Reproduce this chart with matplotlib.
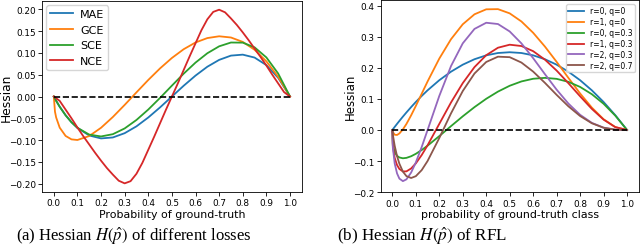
# -*- coding: utf-8 -*-

import matplotlib
matplotlib.use('Agg')
import matplotlib.pyplot as plt

SET_DPI = 100
FIGSIZE = (6.4, 2.53)

# (a) Hessian of different losses
P_LEFT = [0, 0.005, 0.01, 0.025, 0.05, 0.075, 0.1, 0.15, 0.2, 0.25, 0.3, 0.35,
          0.4, 0.45, 0.5, 0.55, 0.6, 0.65, 0.7, 0.75, 0.8, 0.85, 0.9, 0.95, 1.0]
MAE = [0, -0.0049, -0.0097, -0.0232, -0.0428, -0.059, -0.072, -0.0893, -0.096,
       -0.0938, -0.084, -0.0683, -0.048, -0.0248, 0, 0.0248, 0.048, 0.0683,
       0.084, 0.0938, 0.096, 0.0893, 0.072, 0.0428, 0]
GCE = [0, -0.0347, -0.048, -0.0713, -0.0903, -0.0982, -0.0996, -0.0905, -0.0716,
       -0.0469, -0.0192, 0.0096, 0.038, 0.0646, 0.0884, 0.1085, 0.1239, 0.134,
       0.1381, 0.1353, 0.1252, 0.1072, 0.0806, 0.0451, 0]
SCE = [0, -0.005, -0.0099, -0.0235, -0.0431, -0.0591, -0.0716, -0.0872, -0.0915,
       -0.0863, -0.0731, -0.0537, -0.0298, -0.003, 0.025, 0.0525, 0.0778, 0.0992,
       0.1151, 0.1238, 0.1235, 0.1127, 0.0896, 0.0526, 0]
# NCE is sharper, so it gets a finer grid of its own
P_NCE = [0, 0.025, 0.05, 0.075, 0.1, 0.125, 0.15, 0.175, 0.2, 0.225, 0.25,
         0.275, 0.3, 0.325, 0.35, 0.375, 0.4, 0.425, 0.45, 0.475, 0.5,
         0.525, 0.55, 0.575, 0.6, 0.625, 0.65, 0.675, 0.7, 0.725, 0.75,
         0.775, 0.8, 0.825, 0.85, 0.875, 0.9, 0.925, 0.95, 0.975, 1.0]
NCE = [0, -0.01, -0.03, -0.05, -0.071, -0.091, -0.11, -0.129, -0.147, -0.164,
       -0.179, -0.193, -0.199, -0.194, -0.177, -0.152, -0.122, -0.092, -0.061,
       -0.03, 0, 0.03, 0.061, 0.092, 0.122, 0.152, 0.177, 0.194, 0.199, 0.193,
       0.179, 0.164, 0.147, 0.129, 0.11, 0.091, 0.071, 0.05, 0.03, 0.01, 0]
LEFT_LABELS = ['MAE', 'GCE', 'SCE', 'NCE']

# (b) Hessian of RFL
P_RIGHT = [0, 0.002, 0.01, 0.02, 0.03, 0.045, 0.06, 0.08, 0.1, 0.125, 0.15, 0.2,
           0.25, 0.3, 0.35, 0.4, 0.45, 0.5, 0.55, 0.6, 0.65, 0.7, 0.75, 0.8,
           0.85, 0.9, 0.95, 1.0]
R0_Q0 = [0, 0.002, 0.0099, 0.0196, 0.0291, 0.043, 0.0564, 0.0736, 0.09, 0.1094,
         0.1275, 0.16, 0.1875, 0.21, 0.2275, 0.24, 0.2475, 0.25, 0.2475, 0.24,
         0.2275, 0.21, 0.1875, 0.16, 0.1275, 0.09, 0.0475, 0]
R1_Q0 = [0, -0.0064, -0.0153, -0.016, -0.0112, 0.0019, 0.0194, 0.047, 0.0772,
         0.1165, 0.1558, 0.2295, 0.2919, 0.3399, 0.372, 0.388, 0.3886, 0.375,
         0.3489, 0.3125, 0.2683, 0.219, 0.1676, 0.1174, 0.0719, 0.0346, 0.0093, 0]
R0_Q03 = [0, -0.046, -0.0714, -0.0831, -0.0884, -0.091, -0.0897, -0.0845, -0.0767,
          -0.0645, -0.0505, -0.0197, 0.0124, 0.0439, 0.0735, 0.1003, 0.1234,
          0.1422, 0.1561, 0.1647, 0.1676, 0.1644, 0.1548, 0.1384, 0.115, 0.0843,
          0.046, 0]
R1_Q03 = [0, -0.0506, -0.09, -0.1128, -0.1254, -0.1334, -0.1331, -0.1238, -0.1075,
          -0.0807, -0.0494, 0.0196, 0.0885, 0.1507, 0.2022, 0.2405, 0.2645,
          0.2742, 0.27, 0.2534, 0.2262, 0.191, 0.1505, 0.1083, 0.0678, 0.0333,
          0.0092, 0]
R2_Q03 = [0, -0.0557, -0.1077, -0.1396, -0.1564, -0.1645, -0.1588, -0.137,
          -0.1045, -0.0549, -0.0004, 0.1094, 0.2056, 0.2786, 0.325, 0.3448,
          0.3407, 0.3168, 0.2784, 0.2309, 0.1796, 0.1296, 0.085, 0.0488, 0.0229,
          0.0075, 0.001, 0]
R2_Q07 = [0, -0.0144, -0.0509, -0.0839, -0.1086, -0.1339, -0.1484, -0.1544,
          -0.1486, -0.1291, -0.0999, -0.0259, 0.0535, 0.1252, 0.1816, 0.2187,
          0.2357, 0.2341, 0.2168, 0.1877, 0.1516, 0.1129, 0.0762, 0.0449, 0.0216,
          0.0072, 0.001, 0]
RIGHT_LABELS = ['r=0, q=0', 'r=1, q=0', 'r=0, q=0.3', 'r=1, q=0.3',
                'r=2, q=0.3', 'r=2, q=0.7']
XTICKS = [0.0, 0.1, 0.2, 0.3, 0.4, 0.5, 0.6, 0.7, 0.8, 0.9, 1.0]

plt.rcParams['mathtext.fontset'] = 'stix'
LW = 1.3
TICK_FS = 6.4

fig = plt.figure(figsize=FIGSIZE, dpi=SET_DPI)

# left panel
ax = fig.add_axes([0.0656, 0.237, 0.406, 0.755])
left_x = [P_LEFT, P_LEFT, P_LEFT, P_NCE]
for xs, vals, lab in zip(left_x, [MAE, GCE, SCE, NCE], LEFT_LABELS):
    ax.plot(xs, vals, '-', lw=LW, label=lab)
ax.plot([0, 1], [0, 0], 'k--', lw=1.2)
ax.set_xticks(XTICKS)
ax.tick_params(labelsize=TICK_FS, length=3, width=0.6, pad=1.5)
ax.set_xlabel('Probability of ground-truth', fontsize=7.9, labelpad=1)
ax.set_ylabel('Hessian', fontsize=8.8)
ax.yaxis.set_label_coords(-0.113, 0.5)
ax.legend(loc='upper left', fontsize=8, handlelength=2.0, handletextpad=0.7,
          borderaxespad=0.4, borderpad=0.35, labelspacing=0.5)
for sp in ax.spines.values():
    sp.set_linewidth(0.6)

# right panel
ax = fig.add_axes([0.5947, 0.2356, 0.4034, 0.7605])
for vals, lab in zip([R0_Q0, R1_Q0, R0_Q03, R1_Q03, R2_Q03, R2_Q07], RIGHT_LABELS):
    ax.plot(P_RIGHT, vals, '-', lw=LW, label=lab)
ax.plot([0, 1], [0, 0], 'k--', lw=1.2)
ax.set_xticks(XTICKS)
ax.set_ylim(-0.2007, 0.418)
ax.tick_params(labelsize=TICK_FS, length=3, width=0.6, pad=1.5)
ax.set_xlabel('probability of ground-truth class', fontsize=7.9, labelpad=1)
ax.set_ylabel('Hessian', fontsize=8.5)
ax.yaxis.set_label_coords(-0.09, 0.5)
ax.legend(loc='upper right', fontsize=5.5, handlelength=2.0,
          borderaxespad=0.55, borderpad=0.3, labelspacing=0.25)
for sp in ax.spines.values():
    sp.set_linewidth(0.6)

# sub-captions
fig.text(0.209, 0.067, r'(a) Hessian $H(\hat{p})$ of different losses',
         ha='center', va='center', fontsize=12, family='Liberation Serif')
fig.text(0.659, 0.067, r'(b) Hessian $H(\hat{p})$ of RFL',
         ha='center', va='center', fontsize=12.3, family='Liberation Serif')

plt.savefig('out.png', dpi=SET_DPI)
plt.close()
